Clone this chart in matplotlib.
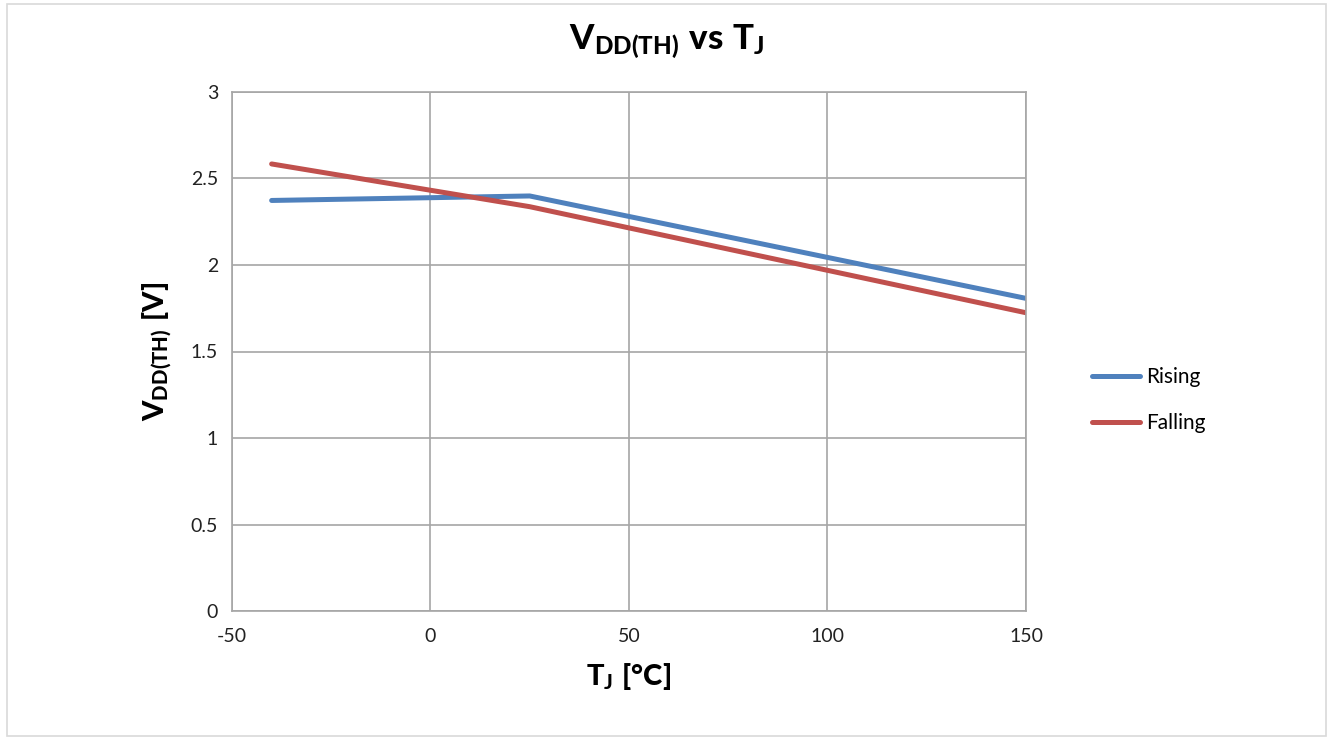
import matplotlib
matplotlib.use('Agg')
import matplotlib.pyplot as plt
from matplotlib.patches import Rectangle

# data
temps = [-40, 25, 150]
rising = [2.373, 2.399, 1.807]
falling = [2.584, 2.337, 1.724]

plt.rcParams['font.family'] = ['Lato', 'DejaVu Sans']
plt.rcParams['axes.unicode_minus'] = False
plt.rcParams['mathtext.fontset'] = 'custom'
plt.rcParams['mathtext.rm'] = 'Lato:black'
plt.rcParams['mathtext.it'] = 'Lato:black'
plt.rcParams['mathtext.bf'] = 'Lato:black'

fig = plt.figure(figsize=(13.33, 7.40), dpi=100)
ax = fig.add_axes([0.174, 0.1743, 0.5957, 0.7014])

grid_c = '#a6a6a6'
ax.plot(temps, rising, color='#4F81BD', lw=3.6, label='Rising', solid_capstyle='round')
ax.plot(temps, falling, color='#C0504D', lw=3.6, label='Falling', solid_capstyle='round')

ax.set_xlim(-50, 150)
ax.set_ylim(0, 3)
ax.set_xticks([-50, 0, 50, 100, 150])
ax.set_yticks([0, 0.5, 1, 1.5, 2, 2.5, 3])
ax.set_yticklabels(['0', '0.5', '1', '1.5', '2', '2.5', '3'])
ax.grid(True, color=grid_c, lw=1.2)
ax.set_axisbelow(True)
for s in ax.spines.values():
    s.set_color(grid_c)
    s.set_linewidth(1.2)
ax.tick_params(axis='both', length=0, labelsize=14, colors='#222222', pad=10)
ax.tick_params(axis='x', pad=12)

# title is centred on the whole chart area, not the plot
fig.text(0.5, 1 - 42 / 740, r'$\mathrm{V_{DD(TH)}\ vs\ T_J}$', fontsize=25,
         ha='center', va='center')
ax.set_xlabel(r'$\mathrm{T_J\ [°C]}$', fontsize=21, labelpad=12)
ax.set_ylabel(r'$\mathrm{V_{DD(TH)}\ [V]}$', fontsize=21, labelpad=12)

fig.legend(loc='center left', bbox_to_anchor=(0.805, 0.459), frameon=False,
           fontsize=15, handlelength=2.3, handletextpad=0.3, labelspacing=1.25)

fig.patches.append(Rectangle((0.005, 0.005), 0.99, 0.99, transform=fig.transFigure,
                             fill=False, edgecolor='#d9d9d9', lw=1.2))

fig.savefig('out.png', dpi=100)
